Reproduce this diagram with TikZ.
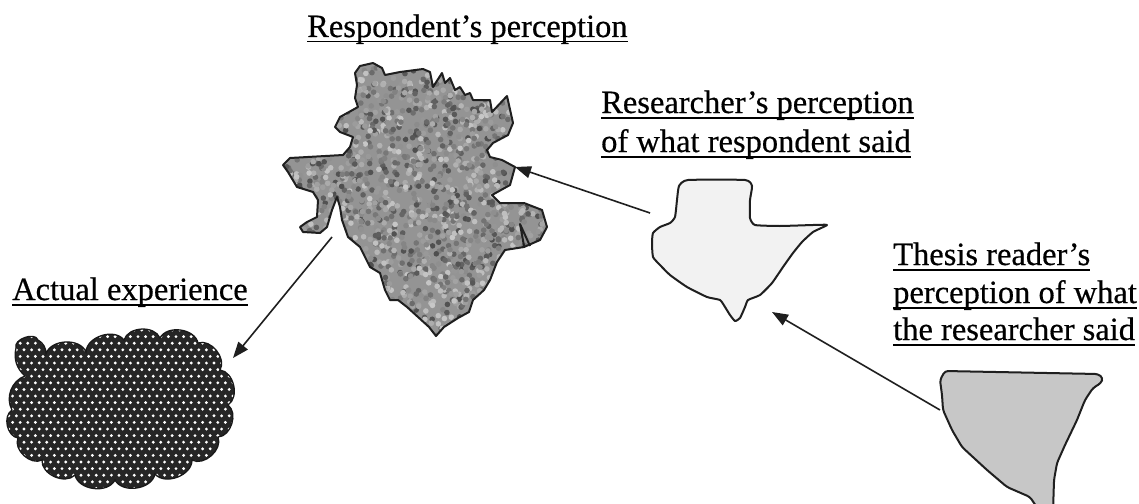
\documentclass[tikz,border=0pt]{standalone}
\usepackage{fontspec}
\setmainfont{Liberation Serif}[FakeBold=0.5]
\usetikzlibrary{arrows.meta}

% underlined label text, rule set just under the baseline
\newcommand\ulword[1]{\setbox0\hbox{#1}\rlap{\rule[-5.5pt]{\wd0}{1.9pt}}\box0}

% outline of the respondent's shape
\newcommand\resppath{(355,73) -- (360,66) -- (373,63) -- (382,68) -- (385,75) -- (400,72) -- (423,69) -- (430,72) -- (433,87) -- (442,73) -- (445,83) -- (450,78) -- (455,90) -- (460,87) -- (465,95) -- (470,93) -- (473,100) -- (490,100) -- (492,112) -- (507,96) -- (513,123) -- (508,135) -- (493,143) -- (487,150) -- (490,157) -- (502,160) -- (515,167) -- (510,185) -- (492,195) -- (500,203) -- (524,203) -- (542,210) -- (547,227) -- (540,240) -- (524,247) -- (505,250) -- (497,262) -- (490,280) -- (484,290) -- (473,300) -- (469,312) -- (458,318) -- (444,327) -- (436,336) -- (429,327) -- (418,317) -- (407,307) -- (398,300) -- (390,300) -- (385,290) -- (380,273) -- (370,267) -- (360,247) -- (348,237) -- (342,220) -- (340,207) -- (337,197) -- (332,210) -- (327,227) -- (320,233) -- (303,232) -- (300,227) -- (307,222) -- (317,217) -- (318,200) -- (313,192) -- (297,187) -- (288,172) -- (283,165) -- (290,158) -- (343,155) -- (350,147) -- (353,137) -- (340,132) -- (335,127) -- (340,117) -- (358,107) -- (355,98) -- (357,85) -- cycle}

% outline of the cloud
\newcommand\cloudpath{(12,410) to[bend left=50] (25,376) to[bend left=30] (16,348) to[bend left=90] (38,340) to[bend left=30] (46,354) to[bend left=70] (86,352) to[bend left=70] (124,340) to[bend left=70] (160,338) to[bend left=70] (198,343) to[bend left=70] (220,370) to[bend left=70] (228,405) to[bend left=70] (218,437) to[bend left=70] (192,460) to[bend left=70] (155,474) to[bend left=70] (115,480) to[bend left=70] (75,475) to[bend left=70] (42,460) to[bend left=70] (18,438) to[bend left=70] (12,410) -- cycle}

\begin{document}
\begin{tikzpicture}[x=1pt,y=-1pt,
  lbl/.style={anchor=base west, inner sep=0pt, font=\fontsize{32.5}{38}\selectfont},
  outline/.style={draw=black!88, line width=2pt, line join=round},
  link/.style={draw=black!88, line width=1.6pt, -{Triangle[length=16pt,width=12pt]}},
]
\useasboundingbox[fill=white] (0,0) rectangle (1139,503);

% respondent's perception: mottled grey shape
\begin{scope}
  \clip \resppath;
  \fill[black!42] (270,50) rectangle (560,345);
  \pgfmathsetseed{42}
  \foreach \k in {1,...,2600}{
    \pgfmathsetmacro\px{275+280*rnd}
    \pgfmathsetmacro\py{55+290*rnd}
    \pgfmathtruncatemacro\pg{22+48*rnd}
    \fill[black!\pg] (\px,\py) circle (2.8);
  }
\end{scope}
\draw[outline] \resppath;
\draw[outline] (530,246) -- (520,224) -- (524,246);

% actual experience: dark dotted cloud
\begin{scope}
  \clip \cloudpath;
  \fill[black!85] (0,325) rectangle (240,490);
  \foreach \r in {0,...,24}{
    \foreach \c in {0,...,31}{
      \pgfmathsetmacro\cx{5+\c*7.6+mod(\r,2)*3.8}
      \pgfmathsetmacro\cy{330+\r*6.6}
      \fill[white] (\cx,\cy) circle (1.6);
    }
  }
\end{scope}
\draw[draw=black!90, line width=1.3pt] \cloudpath;

% researcher's perception: pale shape
\draw[outline, fill=black!5] plot[smooth cycle, tension=0.3] coordinates {(688,180) (745,180) (752,186) (750,200) (750,218) (755,225) (780,226) (813,225) (827,225) (813,232) (802,242) (793,253) (783,267) (772,283) (760,295) (748,300) (745,307) (740,318) (735,321) (730,315) (725,307) (720,300) (707,297) (687,287) (670,275) (660,265) (653,257) (652,243) (653,233) (660,227) (670,223) (675,217) (677,200) (679,186)};

% thesis reader's perception: grey wedge
\draw[outline, fill=black!22, rounded corners=3pt] (945,371) -- (1098,374) -- (1103,378) -- (1101,383) -- (1093,388) -- (1085,400) -- (1077,420) -- (1065,445) -- (1057,463) -- (1054,480) -- (1053,512) -- (1040,512) -- (1030,497) -- (1007,487) -- (987,470) -- (962,447) -- (952,430) -- (943,410) -- (942,395) -- (940,380) -- cycle;

% labels
\node[lbl] (respLbl) at (307,37) {\ulword{Respondent’s perception}};
\node[lbl] (resLblA) at (601,113) {\ulword{Researcher’s perception}};
\node[lbl] (resLblB) at (601,152) {\ulword{of what respondent said}};
\node[lbl] (actLbl) at (12,300) {\ulword{Actual experience}};
\node[lbl] (thLblA) at (893,265) {\ulword{Thesis reader’s}};
\node[lbl] (thLblB) at (893,303) {\ulword{perception of what}};
\node[lbl] (thLblC) at (893,340) {\ulword{the researcher said}};

% arrow ends
\coordinate (resOut) at (650,213);
\coordinate (respIn) at (515,167);
\coordinate (respOut) at (332,237);
\coordinate (actIn) at (233,358);
\coordinate (thOut) at (940,410);
\coordinate (resIn) at (772,312);

\draw[link] (resOut) -- (respIn);
\draw[link] (respOut) -- (actIn);
\draw[link] (thOut) -- (resIn);
\end{tikzpicture}
\end{document}
